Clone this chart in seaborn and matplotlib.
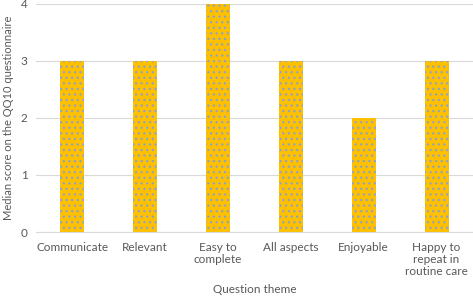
import matplotlib
matplotlib.use("Agg")
import matplotlib.pyplot as plt
import seaborn as sns

# Median QQ10 scores per question theme
themes = ["Communicate", "Relevant", "Easy to\ncomplete", "All aspects", "Enjoyable", "Happy to\nrepeat in\nroutine care"]
scores = [3, 3, 4, 3, 2, 3]

sns.set_style("white")
plt.rcParams['font.family'] = ['Lato', 'DejaVu Sans']
plt.rcParams['hatch.linewidth'] = 0.9

fig = plt.figure(figsize=(4.73, 2.99), dpi=100)
ax = fig.add_axes([0.076, 0.224, 0.924, 0.763])

sns.barplot(x=themes, y=scores, color="#FFC000", width=0.33, saturation=1, ax=ax)
for bar in ax.patches:
    bar.set_hatch("...")
    bar.set_edgecolor("#8FA3C8")
    bar.set_linewidth(0)

ax.set_ylim(0, 4)
ax.set_yticks([0, 1, 2, 3, 4])
ax.yaxis.grid(True, color="#D9D9D9", linewidth=0.8)
ax.set_axisbelow(True)
for s in ["top", "right", "left"]:
    ax.spines[s].set_visible(False)
ax.spines["bottom"].set_color("#D9D9D9")
ax.tick_params(axis="x", length=0, labelsize=8.5, colors="#595959", pad=7)
ax.tick_params(axis="y", length=0, labelsize=8.5, colors="#595959", pad=6)
for t in ax.get_xticklabels():
    t.set_linespacing(1.15)
ax.set_xlabel("Question theme", fontsize=8.5, color="#595959", labelpad=5)
ax.set_ylabel("Median score on the QQ10 questionnaire", fontsize=8, color="#595959")
ax.yaxis.set_label_coords(-0.05, 0.5)

fig.savefig("out.png", dpi=100)
